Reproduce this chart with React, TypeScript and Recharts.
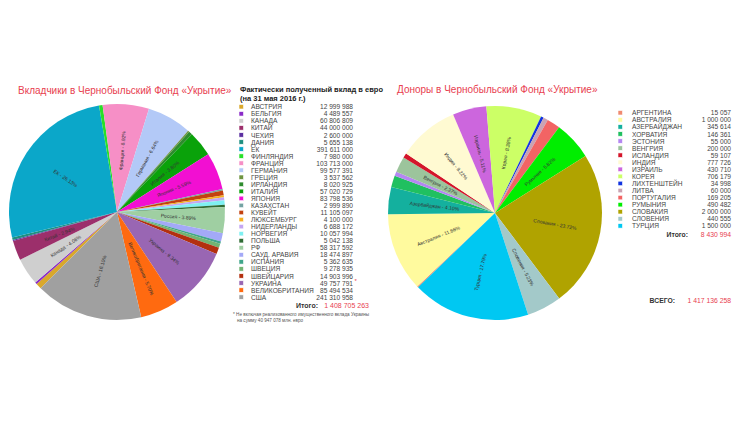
import React from "react";
import { PieChart, Pie, Cell } from "recharts";

// Вкладчики (таблица слева)
const contributors = [
  "АВСТРИЯ", "БЕЛЬГИЯ", "КАНАДА", "КИТАЙ", "ЧЕХИЯ", "ДАНИЯ", "ЕК", "ФИНЛЯНДИЯ",
  "ФРАНЦИЯ", "ГЕРМАНИЯ", "ГРЕЦИЯ", "ИРЛАНДИЯ", "ИТАЛИЯ", "ЯПОНИЯ", "КАЗАХСТАН",
  "КУВЕЙТ", "ЛЮКСЕМБУРГ", "НИДЕРЛАНДЫ", "НОРВЕГИЯ", "ПОЛЬША", "РФ",
  "САУД. АРАВИЯ", "ИСПАНИЯ", "ШВЕЦИЯ", "ШВЕЙЦАРИЯ", "УКРАИНА", "ВЕЛИКОБРИТАНИЯ", "США",
];
const contributorPieNames = [
  "Австрия", "Бельгия", "Канада", "Китай", "Чехия", "Дания", "ЕК", "Финляндия",
  "Франция", "Германия", "Греция", "Ирландия", "Италия", "Япония", "Казахстан",
  "Кувейт", "Люксембург", "Нидерланды", "Норвегия", "Польша", "Россия",
  "Саудовская Аравия", "Испания", "Швеция", "Швейцария", "Украина", "Великобритания", "США",
];
const contributorAmounts = [
  12999988, 4489557, 60806809, 44000000, 2600000, 5655138, 391611000, 7980000,
  103713000, 99577391, 3537562, 8020925, 57020729, 83798536, 2999890,
  11105097, 4100000, 6688172, 10057994, 5042138, 58317592,
  18474897, 5362635, 9278935, 14903996, 49757791, 85494534, 241310958,
];
// the Ukraine wedge is drawn larger than the table figure (estimate from picture)
const ukrainePieAmount = 140000000;
const contributorColors = [
  "#d9a82c", "#8a2bc8", "#cfcfcf", "#9c2f6b", "#5b2fa0", "#1f8f80", "#0ba7c9", "#28e028",
  "#f68fc6", "#b3c9f7", "#6e9440", "#2e8b2e", "#0aa20a", "#f20fd2", "#74a3a3",
  "#c2410f", "#f5b021", "#c4a6f2", "#7ff0f2", "#2f6b35", "#9fcfa2",
  "#a3a9f7", "#3fa58a", "#72b472", "#b3300f", "#9966b3", "#ff6a10", "#a0a0a0",
];
const contributorTotal = "1 408 705 263";

// Доноры (таблица справа)
const donors = [
  "АРГЕНТИНА", "АВСТРАЛИЯ", "АЗЕРБАЙДЖАН", "ХОРВАТИЯ", "ЭСТОНИЯ", "ВЕНГРИЯ",
  "ИСЛАНДИЯ", "ИНДИЯ", "ИЗРАИЛЬ", "КОРЕЯ", "ЛИХТЕНШТЕЙН", "ЛИТВА", "ПОРТУГАЛИЯ",
  "РУМЫНИЯ", "СЛОВАКИЯ", "СЛОВЕНИЯ", "ТУРЦИЯ",
];
const donorPieNames = [
  "Аргентина", "Австралия", "Азербайджан", "Хорватия", "Эстония", "Венгрия",
  "Исландия", "Индия", "Израиль", "Корея", "Лихтенштейн", "Литва", "Португалия",
  "Румыния", "Словакия", "Словения", "Турция",
];
const donorAmounts = [
  15057, 1000000, 345614, 146361, 55000, 200000, 59107, 777726, 430710, 706179,
  34998, 60000, 169205, 490482, 2000000, 440555, 1500000,
];
const donorColors = [
  "#f08a70", "#fffa9e", "#14b09e", "#20c060", "#b487f2", "#9cc49c", "#d4152a",
  "#fffad2", "#cc66dd", "#ccff66", "#1234e0", "#c9a3b3", "#f26464", "#00ee00",
  "#b0a300", "#a3c9c9", "#00c8f2",
];
const donorTotal = "8 430 994";
const grandTotal = "1 417 136 258";

const RADIAN = Math.PI / 180;
const FONT = "'Liberation Sans', Arial, sans-serif";

const fmt = (n: number) => n.toString().replace(/\B(?=(\d{3})+(?!\d))/g, " ");

const leftData = contributorPieNames.map((name, i) => ({
  name,
  value: name === "Украина" ? ukrainePieAmount : contributorAmounts[i],
}));
const rightData = donorPieNames.map((name, i) => ({ name, value: donorAmounts[i] }));

function renderLabel(props: any) {
  const { cx, cy, midAngle, outerRadius, percent, name } = props;
  if (percent < 0.022) return null;
  const r = outerRadius * 0.57;
  const x = cx + r * Math.cos(-midAngle * RADIAN);
  const y = cy + r * Math.sin(-midAngle * RADIAN);
  const a = ((midAngle % 360) + 360) % 360;
  const textAngle = a > 90 && a < 270 ? a - 180 : a;
  return (
    <text
      x={x}
      y={y}
      fill="#333"
      fontSize={5}
      fontFamily={FONT}
      textAnchor="middle"
      dominantBaseline="central"
      transform={`rotate(${-textAngle} ${x} ${y})`}
    >
      {`${name} - ${(percent * 100).toFixed(2)}%`}
    </text>
  );
}

function Marker({ x, y, color }: { x: number; y: number; color: string }) {
  return <rect x={x} y={y - 2.5} width={4.5} height={4.5} fill={color} stroke="#fff" strokeWidth={0.6} />;
}

export default function App() {
  const rowL = 7.05;
  const rowR = 7.07;
  return (
    <div style={{ position: "fixed", left: 0, top: 0, width: 753, height: 435, background: "#fff" }}>
      <div style={{ position: "absolute", left: 0, top: 0 }}>
        <PieChart width={753} height={435}>
          <Pie
            data={leftData}
            dataKey="value"
            nameKey="name"
            cx={112}
            cy={207}
            outerRadius={108}
            startAngle={225}
            endAngle={-135}
            stroke="none"
            labelLine={false}
            label={renderLabel}
            isAnimationActive={false}
          >
            {leftData.map((d, i) => (
              <Cell key={d.name} fill={contributorColors[i]} />
            ))}
          </Pie>
          <Pie
            data={rightData}
            dataKey="value"
            nameKey="name"
            cx={490}
            cy={208}
            outerRadius={107}
            startAngle={224}
            endAngle={-136}
            stroke="none"
            labelLine={false}
            label={renderLabel}
            isAnimationActive={false}
          >
            {rightData.map((d, i) => (
              <Cell key={d.name} fill={donorColors[i]} />
            ))}
          </Pie>
        </PieChart>
      </div>
      <svg width={753} height={435} style={{ position: "absolute", left: 0, top: 0 }} fontFamily={FONT}>
        <text x={18} y={94} fontSize={10} fill="#e8404f">
          Вкладчики в Чернобыльский Фонд «Укрытие»
        </text>
        <text x={397} y={93} fontSize={10} fill="#e8404f">
          Доноры в Чернобыльский Фонд «Укрытие»
        </text>

        <text x={240} y={92} fontSize={7.5} fontWeight="bold" fill="#222">
          Фактически полученный вклад в евро
        </text>
        <text x={240} y={100.5} fontSize={7.5} fontWeight="bold" fill="#222">
          (на 31 мая 2016 г.)
        </text>
        {contributors.map((c, i) => {
          const y = 107 + i * rowL;
          return (
            <g key={c}>
              <Marker x={239} y={y} color={contributorColors[i]} />
              <text x={251} y={y + 2.3} fontSize={6.6} fill="#444">
                {c}
              </text>
              <text x={353} y={y + 2.3} fontSize={6.6} fill="#444" textAnchor="end">
                {fmt(contributorAmounts[i])}
              </text>
              {c === "УКРАИНА" && (
                <text x={354.5} y={y} fontSize={6} fill="#e8404f">
                  *
                </text>
              )}
            </g>
          );
        })}
        <text x={318} y={307.5} fontSize={7} fontWeight="bold" fill="#333" textAnchor="end">
          Итого:
        </text>
        <text x={369} y={307.5} fontSize={7} fill="#e8404f" textAnchor="end">
          {contributorTotal}
        </text>
        <text x={233} y={316} fontSize={4.6} fill="#555">
          * Не включая реализованного имущественного вклада Украины
        </text>
        <text x={237} y={322} fontSize={4.6} fill="#555">
          на сумму 40 947 078 млн. евро
        </text>

        {donors.map((d, i) => {
          const y = 113 + i * rowR;
          return (
            <g key={d}>
              <Marker x={618} y={y} color={donorColors[i]} />
              <text x={632} y={y + 2.3} fontSize={6.6} fill="#444">
                {d}
              </text>
              <text x={731} y={y + 2.3} fontSize={6.6} fill="#444" textAnchor="end">
                {fmt(donorAmounts[i])}
              </text>
            </g>
          );
        })}
        <text x={688} y={236.5} fontSize={6.8} fontWeight="bold" fill="#333" textAnchor="end">
          Итого:
        </text>
        <text x={731} y={236.5} fontSize={6.8} fill="#e8404f" textAnchor="end">
          {donorTotal}
        </text>
        <text x={675} y={302.5} fontSize={6.8} fontWeight="bold" fill="#333" textAnchor="end">
          ВСЕГО:
        </text>
        <text x={731} y={302.5} fontSize={6.8} fill="#e8404f" textAnchor="end">
          {grandTotal}
        </text>
      </svg>
    </div>
  );
}
